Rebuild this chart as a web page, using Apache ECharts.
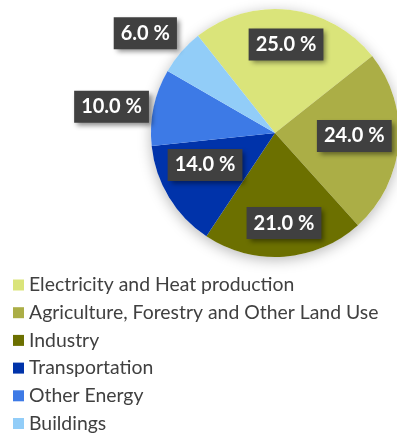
<!DOCTYPE html>
<html>
<head>
<meta charset="utf-8">
<style>
  html, body { margin: 0; padding: 0; background: #ffffff; }
  #chart { width: 397px; height: 435px; }
</style>
<script src="https://cdn.jsdelivr.net/npm/echarts@6/dist/echarts.min.js"></script>
</head>
<body>
<div id="chart"></div>
<script>
// Share of greenhouse gas emissions by economic sector
const categories = [
  'Electricity and Heat production',
  'Agriculture, Forestry and Other Land Use',
  'Industry',
  'Transportation',
  'Other Energy',
  'Buildings'
];
const shares = [25, 24, 21, 14, 10, 6];
const colors = ['#DAE47A', '#ABAE46', '#6C7000', '#0033AA', '#3D7AE6', '#92CDF8'];

// Label placement: distance from the centre as a fraction of the radius,
// and a small angular nudge (degrees) away from the slice's mid-angle.
const labelRadius = [0.72, 0.64, 0.73, 0.62, 1.335, 1.32];
const labelAngleShift = [-0.5, 2.6, 1.5, -6.7, 2.9, 3.2];

const CX = 275, CY = 133, R = 124;
const START_ANGLE = 128.4;

const total = shares.reduce((a, b) => a + b, 0);
const midAngles = [];
let acc = START_ANGLE;
shares.forEach(v => {
  const span = v / total * 360;
  midAngles.push(acc - span / 2);
  acc -= span;
});

const chart = echarts.init(document.getElementById('chart'), null, { renderer: 'canvas' });

chart.setOption({
  animation: false,
  color: colors,
  legend: {
    orient: 'vertical',
    left: 13,
    top: 275,
    height: 180,
    padding: 0,
    icon: 'rect',
    itemWidth: 11,
    itemHeight: 11,
    itemGap: 7.7,
    textStyle: {
      fontFamily: 'Lato',
      fontSize: 19.4,
      lineHeight: 20,
      color: '#404040'
    },
    data: categories
  },
  series: [
    {
      // soft drop shadow behind the pie
      type: 'pie',
      silent: true,
      z: 1,
      center: [CX, CY],
      radius: R,
      label: { show: false },
      labelLine: { show: false },
      itemStyle: {
        color: '#ffffff',
        shadowBlur: 14,
        shadowColor: 'rgba(0,0,0,0.28)',
        shadowOffsetX: 0,
        shadowOffsetY: 3
      },
      data: [{ value: 1, name: '' }],
      legendHoverLink: false
    },
    {
      type: 'pie',
      z: 2,
      center: [CX, CY],
      radius: R,
      startAngle: START_ANGLE,
      clockwise: true,
      avoidLabelOverlap: false,
      data: categories.map((name, i) => ({ name, value: shares[i] })),
      label: {
        show: true,
        position: 'inside',
        formatter: p => p.value.toFixed(1) + ' %',
        fontFamily: 'Lato',
        fontWeight: 'bold',
        fontSize: 20,
        lineHeight: 24,
        color: '#ffffff',
        backgroundColor: '#404040',
        padding: [4, 7, 4, 7],
        shadowBlur: 5,
        shadowOffsetX: 3,
        shadowOffsetY: 3,
        shadowColor: 'rgba(0,0,0,0.45)'
      },
      labelLine: { show: false },
      labelLayout: p => {
        const i = p.dataIndex;
        const a = (midAngles[i] + labelAngleShift[i]) * Math.PI / 180;
        const d = labelRadius[i] * R;
        return {
          x: CX + d * Math.cos(a),
          y: CY - d * Math.sin(a),
          align: 'center',
          verticalAlign: 'middle'
        };
      },
      itemStyle: { borderWidth: 0 }
    }
  ]
});
</script>
</body>
</html>
